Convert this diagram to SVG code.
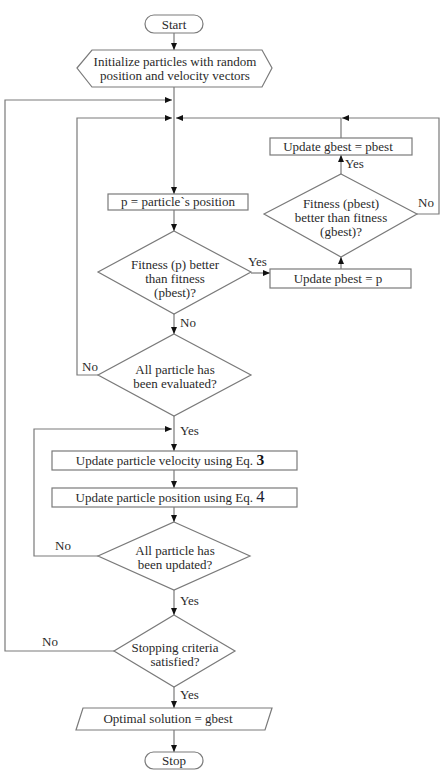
<svg xmlns="http://www.w3.org/2000/svg" width="442" height="770" viewBox="0 0 442 770">
<defs>
<marker id="ah" markerUnits="userSpaceOnUse" markerWidth="7" markerHeight="6" refX="7" refY="3" orient="auto">
<path d="M0,0 L7,3 L0,6 z" fill="#111"/>
</marker>
<style>
.s{fill:#fff;stroke:#7a7a7a;stroke-width:1.2}
.c{fill:none;stroke:#7a7a7a;stroke-width:1.2;marker-end:url(#ah)}
text{font-family:"Liberation Serif","Times New Roman",serif;font-size:13px;fill:#2a2a2a}
.m{text-anchor:middle}
</style>
</defs>
<rect width="442" height="770" fill="#fff"/>
<g id="connectors">
<line class="c" x1="174" y1="33" x2="174" y2="50"/>
<line class="c" x1="174" y1="87" x2="174" y2="194"/>
<line class="c" x1="174" y1="210" x2="174" y2="231"/>
<line class="c" x1="251" y1="273" x2="270" y2="273"/>
<line class="c" x1="341" y1="269" x2="341" y2="257"/>
<line class="c" x1="341" y1="174" x2="341" y2="155"/>
<path class="c" d="M417,214 H439 V118 H342"/>
<path class="c" d="M341,138 V118 H176"/>
<path class="c" d="M98,375 H77 V118 H172"/>
<line class="c" x1="174" y1="314" x2="174" y2="334"/>
<line class="c" x1="174" y1="416" x2="174" y2="451"/>
<path class="c" d="M98,556 H34 V429 H172"/>
<line class="c" x1="174" y1="470" x2="174" y2="488"/>
<line class="c" x1="174" y1="507" x2="174" y2="522"/>
<line class="c" x1="174" y1="590" x2="174" y2="615"/>
<path class="c" d="M114,651 H5 V100 H172"/>
<line class="c" x1="174" y1="687" x2="174" y2="708"/>
<line class="c" x1="174" y1="730" x2="174" y2="752"/>
<text x="248" y="266">Yes</text>
<text x="345" y="168">Yes</text>
<text x="418" y="207">No</text>
<text x="180" y="327">No</text>
<text x="82" y="371">No</text>
<text x="180" y="435">Yes</text>
<text x="55" y="550">No</text>
<text x="180" y="605">Yes</text>
<text x="42" y="646">No</text>
<text x="180" y="699">Yes</text>
</g>
<g id="start">
<rect class="s" x="145" y="15" width="58" height="18" rx="9"/>
<text class="m" x="174" y="28.5">Start</text>
</g>
<g id="init">
<polygon class="s" points="77,68 92,50 262,50 272,68 262,87 92,87"/>
<text class="m" x="175" y="66">Initialize particles with random</text>
<text class="m" x="175" y="80">position and velocity vectors</text>
</g>
<g id="ppos">
<rect class="s" x="108" y="194" width="140" height="16"/>
<text class="m" x="178" y="206">p = particle`s position</text>
</g>
<g id="fitp">
<polygon class="s" points="174,231 251,272 174,314 98,272"/>
<text class="m" x="175" y="269">Fitness (p) better</text>
<text class="m" x="175" y="283">than fitness</text>
<text class="m" x="175" y="297">(pbest)?</text>
</g>
<g id="updpbest">
<rect class="s" x="270" y="269" width="141" height="19"/>
<text class="m" x="338" y="283">Update pbest = p</text>
</g>
<g id="fitpbest">
<polygon class="s" points="341,174 417,214 341,257 264,214"/>
<text class="m" x="341" y="208">Fitness (pbest)</text>
<text class="m" x="341" y="222">better than fitness</text>
<text class="m" x="341" y="236">(gbest)?</text>
</g>
<g id="updgbest">
<rect class="s" x="270" y="138" width="142" height="17"/>
<text class="m" x="338" y="151">Update gbest = pbest</text>
</g>
<g id="evaluated">
<polygon class="s" points="174,334 251,375 174,416 98,375"/>
<text class="m" x="175" y="374">All particle has</text>
<text class="m" x="175" y="388">been evaluated?</text>
</g>
<g id="velocity">
<rect class="s" x="52" y="451" width="245" height="19"/>
<text class="m" x="170" y="465">Update particle velocity using Eq. <tspan font-weight="bold" font-size="15.5" fill="#111">3</tspan></text>
</g>
<g id="position">
<rect class="s" x="52" y="488" width="245" height="19"/>
<text class="m" x="170" y="502">Update particle position using Eq. <tspan font-size="16.5" fill="#1a2233">4</tspan></text>
</g>
<g id="updated">
<polygon class="s" points="174,522 250,556 174,590 98,556"/>
<text class="m" x="175" y="555">All particle has</text>
<text class="m" x="175" y="569">been updated?</text>
</g>
<g id="stopping">
<polygon class="s" points="174,615 235,651 174,687 114,651"/>
<text class="m" x="175" y="652">Stopping criteria</text>
<text class="m" x="175" y="666">satisfied?</text>
</g>
<g id="optimal">
<polygon class="s" points="83,708 272,708 265,730 76,730"/>
<text class="m" x="168" y="723">Optimal solution = gbest</text>
</g>
<g id="stop">
<rect class="s" x="145" y="752" width="58" height="17" rx="8.5"/>
<text class="m" x="174" y="765">Stop</text>
</g>
</svg>
